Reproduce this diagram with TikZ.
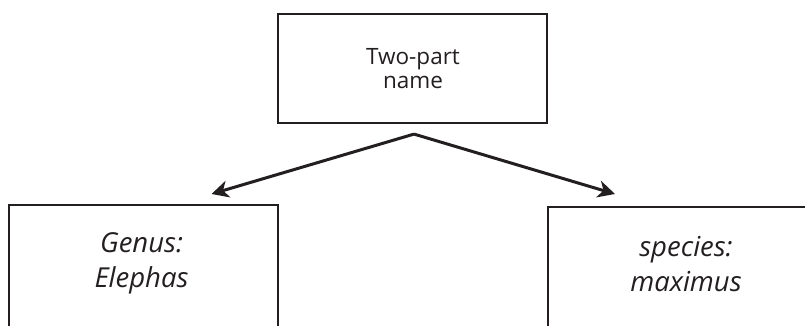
\documentclass[tikz,border=0pt]{standalone}
\usepackage{fontspec}
\setmainfont{Open Sans}
\usetikzlibrary{arrows.meta}
\definecolor{ink}{HTML}{231F20}
\newcommand{\topfont}{\fontsize{22.5pt}{23.5pt}\selectfont}
\newcommand{\itfont}{\fontsize{27.5pt}{35pt}\selectfont\itshape}
\tikzset{
  box/.style={draw=ink, line width=2.2pt, minimum width=269pt, inner sep=0pt},
  toptext/.style={text=ink, align=center, font=\topfont, inner sep=0pt},
  itext/.style={text=ink, align=center, font=\itfont, inner sep=0pt},
  arr/.style={draw=ink, line width=3pt, -{Stealth[length=17pt,width=17pt,inset=5pt]}}
}
\begin{document}
\begin{tikzpicture}[x=1pt,y=1pt]
\useasboundingbox (0,0) rectangle (805,326);
\clip (0,0) rectangle (805,326);
% top box
\node[box, minimum height=109pt] (top) at (412.5,257.5) {};
\node[toptext] (toplbl) at (413,257.5) {Two-part\\name};
% left box
\node[box, minimum height=150pt, anchor=north] (gbox) at (143.5,122) {};
\node[itext] (genus) at (141.5,63) {Genus:\\Elephas};
% right box
\node[box, minimum height=150pt, anchor=north] (sbox) at (682.5,120) {};
\node[itext] (species) at (686,62) {species:\\maximus};
% connectors
\coordinate (apex) at ([xshift=1.5pt,yshift=-10pt]top.south);
\coordinate (ltip) at ([xshift=68pt,yshift=10pt]gbox.north);
\coordinate (rtip) at ([xshift=-67.5pt,yshift=12pt]sbox.north);
\draw[arr] (apex) -- (ltip);
\draw[arr] (apex) -- (rtip);
\end{tikzpicture}
\end{document}
